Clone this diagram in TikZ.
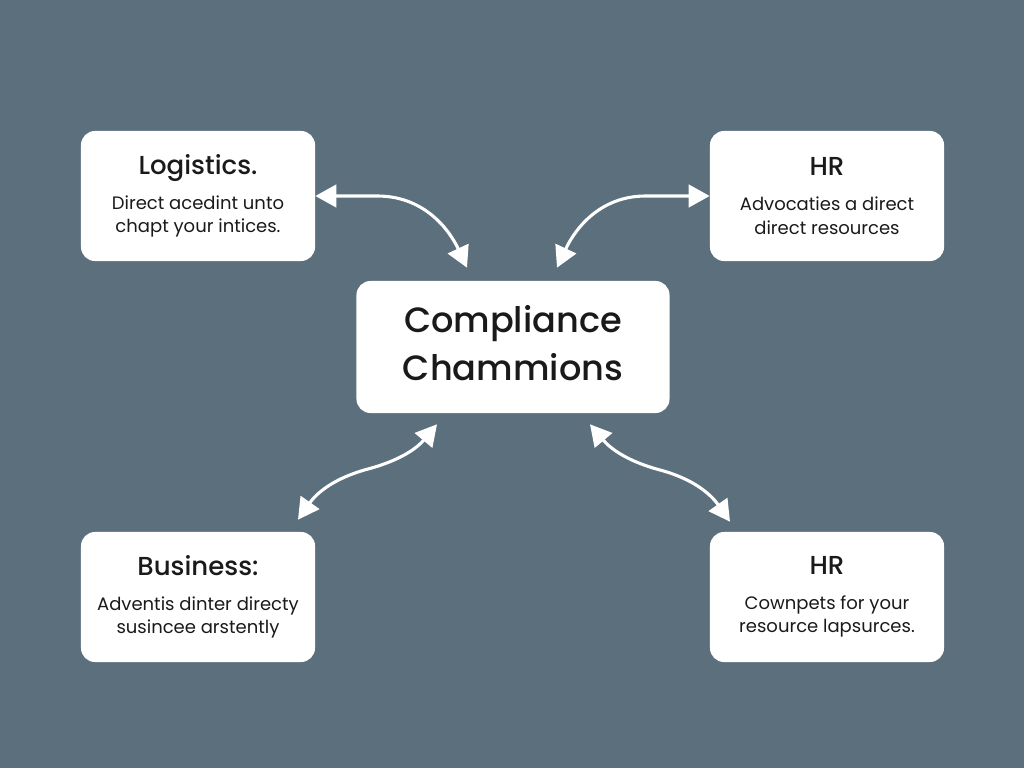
\documentclass[tikz,border=0pt]{standalone}
\usepackage{fontspec}
\setmainfont{Poppins}
\newfontfamily\medfont{Poppins Medium}
\usepackage{tikz}
\usetikzlibrary{shapes,arrows.meta,calc}
\definecolor{slate}{HTML}{5B6F7C}
\definecolor{ink}{HTML}{1A1A1A}
\newcommand{\cardtitle}[1]{{\medfont\fontsize{18.5}{19}\selectfont #1}}

\begin{document}
\begin{tikzpicture}[x=0.025cm,y=0.025cm]
			\tikzset{card/.style = {shape=rectangle,rounded corners=10pt,fill=white,text=ink,
				minimum width=5.85cm,minimum height=3.25cm,align=center,
				font=\fontsize{12.8}{17}\selectfont}}
			
			\tikzset{hub/.style = {card,minimum width=7.825cm,minimum height=3.3cm,
				font=\medfont\fontsize{25}{34}\selectfont}}
			
			\tikzset{link/.style = {draw=white,line width=2.2pt,{Triangle[length=15pt,width=16pt]}-{Triangle[length=15pt,width=16pt]}}}
			
			\fill[slate] (0,0) rectangle (1024,-768);
			\useasboundingbox (0,0) rectangle (1024,-768);
			
			% vertices
			
			\node[hub] (cc) at (513,-347) {\raisebox{6pt}{Compliance}\\\raisebox{6pt}{Chammions}};
			
			\node[card] (log) at (198,-196) {\cardtitle{Logistics.}\\[7.6pt]Direct acedint unto\\chapt your intices.};
			
			\node[card] (hra) at (827,-196) {\cardtitle{HR}\\[7.6pt]Advocaties a direct\\direct resources};
			
			\node[card] (bus) at (198,-597) {\cardtitle{Business:}\\[7.6pt]Adventis dinter directy\\susincee arstently};
			
			\node[card] (hrb) at (827,-597) {\cardtitle{HR}\\[7.6pt]Cownpets for your\\resource lapsurces.};
			
			% arrow ends
			
			\coordinate (ta) at ($(cc.north)+(-46,13)$);
			\coordinate (tb) at ($(cc.north)+(44,13)$);
			\coordinate (tc) at ($(cc.south)+(-76,-11)$);
			\coordinate (td) at ($(cc.south)+(77,-11)$);
			\coordinate (mc) at (368,-469);
			\coordinate (md) at (660,-470);
			\coordinate (bc) at ($(bus.north)+(100,12)$);
			\coordinate (bd) at ($(hrb.north)+(-97,10)$);
			
			%edges
			
			\draw[link] (log.east) -- ++(62,0) to[out=0,in=115] (ta);
			\draw[link] (hra.west) -- ++(-64,0) to[out=180,in=65] (tb);
			\draw[link] (tc) to[out=-130,in=15] (mc) to[out=195,in=55] (bc);
			\draw[link] (td) to[out=-50,in=165] (md) to[out=-15,in=125] (bd);
			\end{tikzpicture}
\end{document}
